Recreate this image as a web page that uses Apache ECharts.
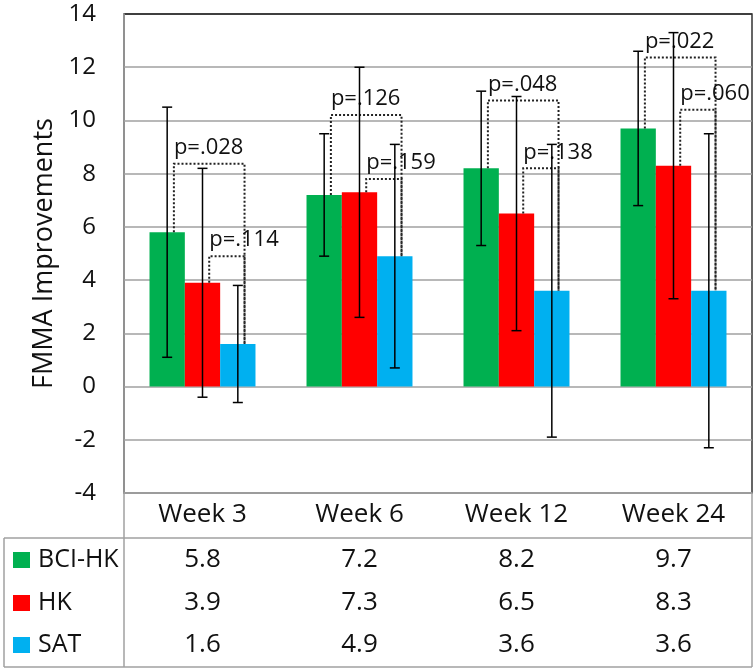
<!DOCTYPE html>
<html>
<head>
<meta charset="utf-8">
<script src="https://cdn.jsdelivr.net/npm/echarts@6/dist/echarts.min.js"></script>
<style>
  html, body { margin: 0; padding: 0; background: #fff; }
  #chart { width: 756px; height: 671px; }
</style>
</head>
<body>
<div id="chart"></div>
<script>
var categories = ['Week 3', 'Week 6', 'Week 12', 'Week 24'];
var seriesNames = ['BCI-HK', 'HK', 'SAT'];
var seriesColors = ['#00B050', '#FF0000', '#00B0F0'];
var bciHk = [5.8, 7.2, 8.2, 9.7];
var hk = [3.9, 7.3, 6.5, 8.3];
var sat = [1.6, 4.9, 3.6, 3.6];
// error bar half widths
var bciHkErr = [4.7, 2.3, 2.9, 2.9];
var hkErr = [4.3, 4.7, 4.4, 5.0];
var satErr = [2.2, 4.2, 5.5, 5.9];
// significance brackets
var pLabels = ['p=.028', 'p=.114', 'p=.126', 'p=.159', 'p=.048', 'p=.138', 'p=.022', 'p=.060'];
var pCat = [0, 0, 1, 1, 2, 2, 3, 3];
var pFrom = [0, 1, 0, 1, 0, 1, 0, 1];
var pTo = [2, 2, 2, 2, 2, 2, 2, 2];
var pTop = [8.37, 4.9, 10.2, 7.8, 10.75, 8.2, 12.37, 10.4];

var values = [bciHk, hk, sat];
var errs = [bciHkErr, hkErr, satErr];
var FONT = 'Open Sans';

var chart = echarts.init(document.getElementById('chart'));

var errData = [];
values.forEach(function (arr, s) {
    arr.forEach(function (v, i) {
        errData.push([i, s, v, errs[s][i]]);
    });
});
var bracketData = pLabels.map(function (lab, k) {
    return [pCat[k], pFrom[k], pTo[k], pTop[k], k];
});

function barX(api, cat, s) {
    var catW = api.size([1, 0])[0];
    var bw = catW * (1 - 0.325) / 3;
    return { x: api.coord([cat, 0])[0] + (s - 1) * bw, bw: bw };
}

var series = values.map(function (arr, s) {
    return {
        name: seriesNames[s],
        type: 'bar',
        data: arr,
        barGap: '0%',
        barCategoryGap: '32.5%',
        itemStyle: { color: seriesColors[s] },
        z: 2
    };
});

series.push({
    type: 'custom',
    z: 3,
    clip: false,
    data: bracketData,
    encode: { x: 0, y: 3 },
    renderItem: function (params, api) {
        var cat = api.value(0), s1 = api.value(1), s2 = api.value(2);
        var top = api.value(3), k = api.value(4);
        var b1 = barX(api, cat, s1), b2 = barX(api, cat, s2);
        var off = b1.bw * 0.19;
        var x1 = b1.x + off, x2 = b2.x + off;
        var yT = api.coord([cat, top])[1];
        var y1 = api.coord([cat, values[s1][cat]])[1];
        var y2 = api.coord([cat, values[s2][cat]])[1];
        return {
            type: 'group',
            children: [{
                type: 'polyline',
                shape: { points: [[x1, y1], [x1, yT], [x2, yT], [x2, y2]] },
                style: { stroke: '#222', lineWidth: 2, lineDash: [2, 2], fill: null }
            }, {
                type: 'text',
                style: {
                    text: pLabels[k], x: x1, y: yT - 5,
                    align: 'left', verticalAlign: 'bottom',
                    fill: '#111', fontSize: 22, fontFamily: FONT
                }
            }]
        };
    }
});

series.push({
    type: 'custom',
    z: 4,
    clip: false,
    data: errData,
    encode: { x: 0, y: 2 },
    renderItem: function (params, api) {
        var cat = api.value(0), s = api.value(1), v = api.value(2), e = api.value(3);
        var x = barX(api, cat, s).x;
        var yHi = api.coord([cat, v + e])[1];
        var yLo = api.coord([cat, v - e])[1];
        var st = { stroke: '#000', lineWidth: 1.5 };
        return {
            type: 'group',
            children: [
                { type: 'line', shape: { x1: x, y1: yHi, x2: x, y2: yLo }, style: st },
                { type: 'line', shape: { x1: x - 5, y1: yHi, x2: x + 5, y2: yHi }, style: st },
                { type: 'line', shape: { x1: x - 5, y1: yLo, x2: x + 5, y2: yLo }, style: st }
            ]
        };
    }
});

var splitColors = ['#a0a0a0', '#a0a0a0', '#a0a0a0', '#a0a0a0', '#a0a0a0',
    '#a0a0a0', '#a0a0a0', '#a0a0a0', '#a0a0a0', '#333'];

var option = {
    animation: false,
    grid: {
        left: 124, right: 4, top: 14, bottom: 178,
        show: true, borderColor: '#333', borderWidth: 1.5
    },
    xAxis: {
        type: 'category',
        data: categories,
        axisLine: { onZero: false, lineStyle: { color: '#a0a0a0', width: 1.5 } },
        axisTick: { show: false },
        axisLabel: { color: '#111', fontSize: 26, fontFamily: FONT, margin: 9 }
    },
    yAxis: {
        type: 'value',
        min: -4, max: 14, interval: 2,
        name: 'FMMA Improvements',
        nameLocation: 'middle',
        nameGap: 66,
        nameTextStyle: { color: '#111', fontSize: 27, fontFamily: FONT },
        axisLine: { show: true, lineStyle: { color: '#a0a0a0', width: 1.5 } },
        axisTick: { show: false },
        splitLine: { lineStyle: { color: splitColors, width: 1.5 } },
        axisLabel: { color: '#111', fontSize: 24, fontFamily: FONT, margin: 28 }
    },
    series: series
};
chart.setOption(option);

// data table under the plot
var gray = { stroke: '#a0a0a0', lineWidth: 1.5 };
var table = [
    { type: 'line', shape: { x1: 124, y1: 493, x2: 124, y2: 667 }, style: gray },
    { type: 'line', shape: { x1: 752, y1: 493, x2: 752, y2: 667 }, style: gray },
    { type: 'line', shape: { x1: 4, y1: 538, x2: 752, y2: 538 }, style: gray },
    { type: 'line', shape: { x1: 4, y1: 667, x2: 752, y2: 667 }, style: gray },
    { type: 'line', shape: { x1: 4, y1: 538, x2: 4, y2: 667 }, style: gray }
];
var rowY = [560, 603, 645];
seriesNames.forEach(function (name, s) {
    table.push({
        type: 'rect',
        shape: { x: 13, y: rowY[s] - 8, width: 17, height: 16 },
        style: { fill: seriesColors[s] }
    });
    table.push({
        type: 'text',
        style: {
            text: name, x: 38, y: rowY[s], align: 'left', verticalAlign: 'middle',
            fill: '#111', fontSize: 25, fontFamily: FONT
        }
    });
    values[s].forEach(function (v, i) {
        var cx = chart.convertToPixel({ xAxisIndex: 0 }, i);
        table.push({
            type: 'text',
            style: {
                text: v.toFixed(1), x: cx, y: rowY[s], align: 'center', verticalAlign: 'middle',
                fill: '#111', fontSize: 26, fontFamily: FONT
            }
        });
    });
});
chart.setOption({ graphic: table });
</script>
</body>
</html>
